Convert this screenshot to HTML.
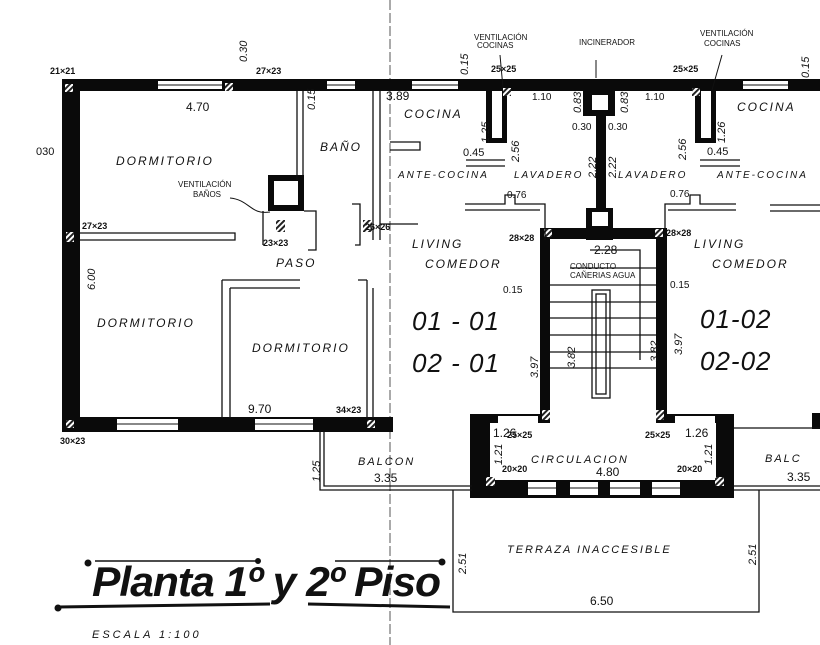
<!DOCTYPE html>
<html><head><meta charset="utf-8"><style>
html,body{margin:0;padding:0;background:#fff;}
svg{display:block;}
text{font-family:"Liberation Sans",sans-serif;font-style:italic;fill:#111;}
.s{font-size:9px;font-style:normal;font-weight:bold;}
.t{font-size:8px;font-style:normal;}
.l{font-size:12px;letter-spacing:2px;}
.d{font-size:12px;font-style:normal;}
.big{font-size:26px;letter-spacing:1px;}
</style></head><body>
<svg width="820" height="645" viewBox="0 0 820 645" xmlns="http://www.w3.org/2000/svg">
<defs>
<pattern id="h" width="4" height="4" patternUnits="userSpaceOnUse" patternTransform="rotate(45)"><rect width="4" height="4" fill="#fff"/><rect width="2" height="4" fill="#222"/></pattern>
</defs>
<line x1="390" y1="0" x2="390" y2="645" stroke="#555" stroke-width="1" stroke-dasharray="10,3"/>
<g fill="#0a0a0a">
<rect x="62" y="79" width="758" height="12"/>
<rect x="62" y="79" width="18" height="350"/>
<rect x="62" y="417" width="331" height="15"/>
<rect x="540" y="228" width="10" height="192"/>
<rect x="656" y="228" width="11" height="192"/>
<rect x="540" y="228" width="127" height="11"/>
<rect x="586" y="208" width="27" height="32"/>
<rect x="596" y="110" width="10" height="100"/>
<rect x="583" y="88" width="32" height="28"/>
<rect x="486" y="88" width="21" height="55"/>
<rect x="695" y="88" width="21" height="55"/>
<rect x="470" y="414" width="264" height="84"/>
<rect x="812" y="413" width="8" height="16"/>
<rect x="268" y="175" width="36" height="36"/>
</g>
<g fill="#fff">
<rect x="158" y="81" width="64" height="8"/>
<rect x="327" y="81" width="28" height="8"/>
<rect x="412" y="81" width="46" height="8"/>
<rect x="743" y="81" width="45" height="8"/>
<rect x="117" y="419" width="61" height="11"/>
<rect x="255" y="419" width="58" height="11"/>
<rect x="592" y="95" width="16" height="15"/>
<rect x="592" y="212" width="16" height="14"/>
<rect x="492" y="91" width="10" height="47"/>
<rect x="701" y="91" width="10" height="47"/>
<rect x="274" y="181" width="24" height="24"/>
<rect x="490" y="423" width="226" height="57"/>
<rect x="550" y="413" width="106" height="12"/>
<rect x="498" y="416" width="40" height="7"/>
<rect x="675" y="416" width="40" height="7"/>
<rect x="528" y="482" width="28" height="13"/>
<rect x="570" y="482" width="28" height="13"/>
<rect x="610" y="482" width="30" height="13"/>
<rect x="652" y="482" width="28" height="13"/>
</g>
<g stroke="#111" stroke-width="1">
<line x1="158" y1="85" x2="222" y2="85"/><line x1="327" y1="85" x2="355" y2="85"/>
<line x1="412" y1="85" x2="458" y2="85"/><line x1="743" y1="85" x2="788" y2="85"/>
<line x1="117" y1="424" x2="178" y2="424"/><line x1="255" y1="424" x2="313" y2="424"/>
<line x1="528" y1="488" x2="556" y2="488"/><line x1="570" y1="488" x2="598" y2="488"/>
<line x1="610" y1="488" x2="640" y2="488"/><line x1="652" y1="488" x2="680" y2="488"/>
</g>
<g fill="url(#h)">
<rect x="65" y="84" width="8" height="8"/><rect x="225" y="83" width="8" height="8"/>
<rect x="66" y="232" width="8" height="10"/><rect x="66" y="420" width="8" height="8"/>
<rect x="367" y="420" width="8" height="8"/><rect x="276" y="220" width="9" height="12"/>
<rect x="363" y="220" width="9" height="12"/><rect x="544" y="229" width="8" height="8"/>
<rect x="655" y="229" width="8" height="8"/><rect x="542" y="410" width="8" height="10"/>
<rect x="656" y="410" width="8" height="10"/><rect x="486" y="477" width="9" height="9"/>
<rect x="715" y="477" width="9" height="9"/><rect x="503" y="88" width="8" height="8"/>
<rect x="692" y="88" width="8" height="8"/>
</g>
<g fill="none" stroke="#111" stroke-width="1.3">
<path d="M297 91V180M303 91V175"/>
<path d="M373 91V240M380 91V240"/>
<path d="M80 233H235V240H80"/>
<path d="M222 280V418M230 288V418M222 280H300M230 288H300"/>
<path d="M367 280V418M373 288V418M367 280H358"/>
<path d="M304 211H316V250H308"/>
<path d="M263 211V245"/>
<path d="M352 204H360V245H355M380 224H418"/>
<path d="M390 142H420V150H390"/>
<path d="M466 160H505M466 166H505"/><path d="M700 160H740M700 166H740"/>
<path d="M465 204H505V195H515V204H545V240"/><path d="M465 210H540"/>
<path d="M736 204H700V195H690V204H665V240"/><path d="M736 210H668"/>
<path d="M770 205H820M770 211H820"/>
<path d="M590 250H640V360M570 268H656M550 285H656M550 302H656M550 318H656M550 335H656M550 352H656M550 368H656"/>
<rect x="592" y="290" width="18" height="108"/>
<rect x="596" y="294" width="10" height="100"/>
<path d="M320 432V490H472M324 432V486H472"/>
<path d="M734 428H820M734 486H820M734 490H820"/>
<path d="M453 490V612H759V490"/>
</g>
<g stroke="#111" fill="#111">
<line x1="95" y1="561" x2="260" y2="561" stroke-width="1.5"/>
<line x1="335" y1="561" x2="445" y2="561" stroke-width="1.5"/>
<line x1="58" y1="607" x2="270" y2="604" stroke-width="3"/>
<line x1="308" y1="604" x2="450" y2="607" stroke-width="3"/>
<circle cx="88" cy="563" r="3"/><circle cx="258" cy="561" r="2.5"/><circle cx="442" cy="562" r="3"/><circle cx="58" cy="608" r="3"/>
</g>
<text x="92" y="596" textLength="348" lengthAdjust="spacingAndGlyphs" style="font-size:42px;font-weight:bold;letter-spacing:-1px">Planta 1º y 2º Piso</text>
<text x="92" y="638" class="l" style="font-size:11px;letter-spacing:3px">ESCALA 1:100</text>
<text x="116" y="165" class="l">DORMITORIO</text>
<text x="97" y="327" class="l">DORMITORIO</text>
<text x="252" y="352" class="l">DORMITORIO</text>
<text x="320" y="151" class="l">BAÑO</text>
<text x="276" y="267" class="l">PASO</text>
<text x="404" y="118" class="l">COCINA</text>
<text x="737" y="111" class="l">COCINA</text>
<text x="398" y="178" class="l" style="font-size:10px">ANTE-COCINA</text>
<text x="514" y="178" class="l" style="font-size:10px">LAVADERO</text>
<text x="618" y="178" class="l" style="font-size:10px">LAVADERO</text>
<text x="717" y="178" class="l" style="font-size:10px">ANTE-COCINA</text>
<text x="412" y="248" class="l">LIVING</text>
<text x="425" y="268" class="l">COMEDOR</text>
<text x="694" y="248" class="l">LIVING</text>
<text x="712" y="268" class="l">COMEDOR</text>
<text x="412" y="330" class="big">01 - 01</text>
<text x="412" y="372" class="big">02 - 01</text>
<text x="700" y="328" class="big">01-02</text>
<text x="700" y="370" class="big">02-02</text>
<text x="531" y="463" class="l" style="font-size:11px">CIRCULACION</text>
<text x="596" y="476" class="d">4.80</text>
<text x="358" y="465" class="l" style="font-size:11px">BALCON</text>
<text x="374" y="482" class="d">3.35</text>
<text x="765" y="462" class="l" style="font-size:11px">BALC</text>
<text x="787" y="481" class="d">3.35</text>
<text x="507" y="553" class="l" style="font-size:11px">TERRAZA INACCESIBLE</text>
<text x="590" y="605" class="d">6.50</text>
<text x="474" y="40" class="t">VENTILACIÓN</text><text x="477" y="48" class="t">COCINAS</text>
<text x="579" y="45" class="t">INCINERADOR</text>
<text x="700" y="36" class="t">VENTILACIÓN</text><text x="704" y="46" class="t">COCINAS</text>
<text x="178" y="187" class="t">VENTILACIÓN</text><text x="193" y="197" class="t">BAÑOS</text>
<text x="570" y="269" class="t">CONDUCTO</text><text x="570" y="278" class="t">CAÑERIAS AGUA</text>
<text x="186" y="111" class="d">4.70</text>
<text x="248" y="413" class="d">9.70</text>
<text x="386" y="100" class="d">3.89</text>
<text x="594" y="254" class="d">2.28</text>
<text x="493" y="437" class="d">1.26</text>
<text x="685" y="437" class="d">1.26</text>
<text x="463" y="156" class="d" style="font-size:11px">0.45</text>
<text x="707" y="155" class="d" style="font-size:11px">0.45</text>
<text x="572" y="130" class="d" style="font-size:10px">0.30</text><text x="608" y="130" class="d" style="font-size:10px">0.30</text>
<text x="532" y="100" class="d" style="font-size:10px">1.10</text><text x="645" y="100" class="d" style="font-size:10px">1.10</text>
<text x="507" y="198" class="d" style="font-size:10px">0.76</text><text x="670" y="197" class="d" style="font-size:10px">0.76</text>
<text x="503" y="293" class="d" style="font-size:10px">0.15</text><text x="670" y="288" class="d" style="font-size:10px">0.15</text>
<text x="36" y="155" class="d" style="font-size:11px">030</text>
<g class="s">
<text x="50" y="74" class="s">21×21</text><text x="256" y="74" class="s">27×23</text>
<text x="82" y="229" class="s">27×23</text><text x="263" y="246" class="s">23×23</text>
<text x="365" y="230" class="s">26×26</text><text x="336" y="413" class="s">34×23</text>
<text x="60" y="444" class="s">30×23</text><text x="507" y="438" class="s">25×25</text>
<text x="645" y="438" class="s">25×25</text><text x="502" y="472" class="s">20×20</text>
<text x="677" y="472" class="s">20×20</text><text x="509" y="241" class="s">28×28</text>
<text x="666" y="236" class="s">28×28</text><text x="491" y="72" class="s">25×25</text>
<text x="673" y="72" class="s">25×25</text>
</g>
<g class="d" style="font-size:11px">
<text transform="translate(489,143) rotate(-90)">1.25</text>
<text transform="translate(519,162) rotate(-90)">2.56</text>
<text transform="translate(686,160) rotate(-90)">2.56</text>
<text transform="translate(725,143) rotate(-90)">1.26</text>
<text transform="translate(581,113) rotate(-90)">0.83</text>
<text transform="translate(628,113) rotate(-90)">0.83</text>
<text transform="translate(596,178) rotate(-90)">2.22</text>
<text transform="translate(616,178) rotate(-90)">2.22</text>
<text transform="translate(538,378) rotate(-90)">3.97</text>
<text transform="translate(682,355) rotate(-90)">3.97</text>
<text transform="translate(575,368) rotate(-90)">3.82</text>
<text transform="translate(658,362) rotate(-90)">3.82</text>
<text transform="translate(502,465) rotate(-90)">1.21</text>
<text transform="translate(712,465) rotate(-90)">1.21</text>
<text transform="translate(466,574) rotate(-90)">2.51</text>
<text transform="translate(756,565) rotate(-90)">2.51</text>
<text transform="translate(320,482) rotate(-90)">1.25</text>
<text transform="translate(315,110) rotate(-90)">0.15</text>
<text transform="translate(468,75) rotate(-90)">0.15</text>
<text transform="translate(809,78) rotate(-90)">0.15</text>
<text transform="translate(247,62) rotate(-90)">0.30</text>
<text transform="translate(95,290) rotate(-90)">6.00</text>
</g>
<path d="M230 198C250 200 250 215 270 212" fill="none" stroke="#111"/>
<path d="M500 55L503 88M722 55L712 90M596 60V78" fill="none" stroke="#111"/>
</svg>
</body></html>
